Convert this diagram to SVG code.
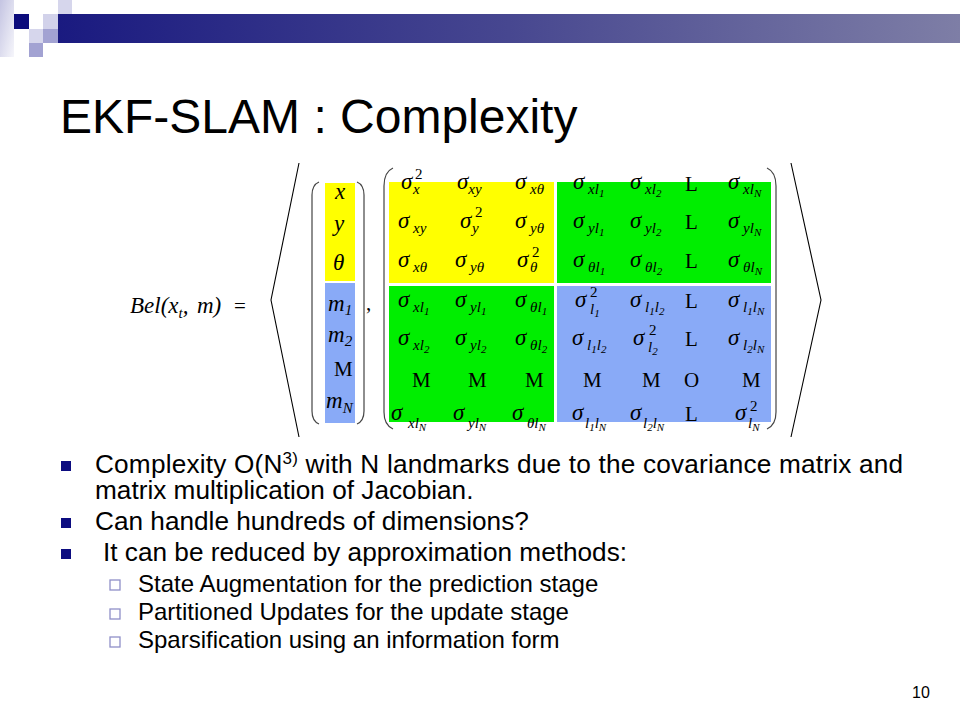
<svg xmlns="http://www.w3.org/2000/svg" width="960" height="720" viewBox="0 0 960 720">
<defs>
<linearGradient id="bar" x1="0" y1="0" x2="1" y2="0">
<stop offset="0" stop-color="#1a1a80"/>
<stop offset="0.5" stop-color="#474790"/>
<stop offset="1" stop-color="#7e7ea6"/>
</linearGradient>
<linearGradient id="strip" x1="0" y1="0" x2="1" y2="1">
<stop offset="0" stop-color="#c4c4e2"/>
<stop offset="1" stop-color="#f6f6fb"/>
</linearGradient>
</defs>
<style>
.t{font-family:"Liberation Sans",Arial,sans-serif;fill:#000}
.m{font-family:"Liberation Serif","Times New Roman",serif;font-style:italic;font-size:23px;fill:#000}
.sb{font-size:15px}
.ix{font-size:11px}
.sp{font-family:"Liberation Serif","Times New Roman",serif;font-size:15px;fill:#000}
.u{font-family:"Liberation Serif","Times New Roman",serif;font-size:21px;fill:#000}
.br{fill:none;stroke:#000;stroke-width:1.1}
.pr{fill:none;stroke:#444;stroke-width:1.2}
.bul{fill:#0c0c80}
.sbul{fill:#fff;stroke:#9090c8;stroke-width:1.3}
.b1{font-size:26.2px}
.b2{font-size:24px}
</style>
<g id="banner">
<rect x="0" y="0" width="14" height="57" fill="url(#strip)"/>
<rect x="14" y="14" width="15" height="15" fill="#0c0c7c"/>
<rect x="43" y="14" width="15" height="15" fill="#d2d2ea"/>
<rect x="58" y="14" width="14" height="15" fill="#a2a2d2"/>
<rect x="58" y="0" width="14" height="14" fill="#d6d6ec"/>
<rect x="29" y="29" width="14" height="14" fill="#d6d6ec"/>
<rect x="43" y="29" width="15" height="14" fill="#a2a2d2"/>
<rect x="29" y="43" width="14" height="14" fill="#a2a2d2"/>
<rect x="58" y="14" width="902" height="29" fill="url(#bar)"/>
</g>
<g id="title">
<text class="t" x="60" y="133" font-size="48">EKF-SLAM : Complexity</text>
</g>
<g id="equation">
<text class="m" x="130" y="313" font-size="26">Bel(x<tspan class="sb" dy="5">t</tspan><tspan dy="-5">,</tspan><tspan x="197">m)</tspan></text>
<text class="u" x="234" y="313" font-size="24">=</text>
<polyline class="br" points="299,163 271,300 299,437"/>
<polyline class="br" points="791,163 821,300 791,437"/>
<text class="u" x="366" y="310">,</text>
</g>
<g id="vector">
<rect x="325" y="183" width="30" height="98" fill="#ffff00"/>
<rect x="325" y="283" width="30" height="140" fill="#89aaf7"/>
<path class="pr" d="M319,182 Q312,185 312,195 L312,411 Q312,421 319,424"/>
<path class="pr" d="M357,182 Q364,185 364,195 L364,411 Q364,421 357,424"/>
<text class="m" x="335" y="199" font-size="22">x</text>
<text class="m" x="334" y="231" font-size="22">y</text>
<text class="m" x="333" y="270" font-size="22">θ</text>
<text class="m" x="328" y="311" font-size="22">m<tspan class="sb" dy="4">1</tspan></text>
<text class="m" x="328" y="342" font-size="22">m<tspan class="sb" dy="4">2</tspan></text>
<text class="u" x="334" y="376">M</text>
<text class="m" x="326" y="408" font-size="22">m<tspan class="sb" dy="5">N</tspan></text>
</g>
<g id="matrix">
<rect x="389" y="182" width="165" height="101" fill="#ffff00"/>
<rect x="557" y="182" width="214" height="101" fill="#00ee00"/>
<rect x="389" y="286" width="165" height="136" fill="#00ee00"/>
<rect x="557" y="286" width="214" height="136" fill="#89aaf7"/>
<path class="pr" d="M393,168 Q384,172 384,186 L384,412 Q384,425 393,429"/>
<path class="pr" d="M767,168 Q776,172 776,186 L776,412 Q776,425 767,429"/>
<!-- row 1 -->
<text class="m" x="401" y="189">σ</text><text class="sp" x="415" y="179">2</text><text class="m sb" x="413" y="194">x</text>
<text class="m" x="457" y="189">σ<tspan class="sb" dy="5">xy</tspan></text>
<text class="m" x="515" y="189">σ<tspan class="sb" dy="5"> xθ</tspan></text>
<text class="m" x="573" y="189">σ<tspan class="sb" dy="5"> xl</tspan><tspan class="ix" dy="3">1</tspan></text>
<text class="m" x="630" y="189">σ<tspan class="sb" dy="5"> xl</tspan><tspan class="ix" dy="3">2</tspan></text>
<text class="u" x="685" y="191">L</text>
<text class="m" x="728" y="189">σ<tspan class="sb" dy="5"> xl</tspan><tspan class="ix" dy="3">N</tspan></text>
<!-- row 2 -->
<text class="m" x="398" y="228">σ<tspan class="sb" dy="5"> xy</tspan></text>
<text class="m" x="460" y="228">σ</text><text class="sp" x="475" y="217">2</text><text class="m sb" x="472" y="233">y</text>
<text class="m" x="515" y="228">σ<tspan class="sb" dy="5"> yθ</tspan></text>
<text class="m" x="573" y="228">σ<tspan class="sb" dy="5"> yl</tspan><tspan class="ix" dy="3">1</tspan></text>
<text class="m" x="630" y="228">σ<tspan class="sb" dy="5"> yl</tspan><tspan class="ix" dy="3">2</tspan></text>
<text class="u" x="685" y="229">L</text>
<text class="m" x="728" y="228">σ<tspan class="sb" dy="5"> yl</tspan><tspan class="ix" dy="3">N</tspan></text>
<!-- row 3 -->
<text class="m" x="398" y="267">σ<tspan class="sb" dy="5"> xθ</tspan></text>
<text class="m" x="455" y="267">σ<tspan class="sb" dy="5"> yθ</tspan></text>
<text class="m" x="517" y="267">σ</text><text class="sp" x="532" y="257">2</text><text class="m sb" x="530" y="272">θ</text>
<text class="m" x="573" y="267">σ<tspan class="sb" dy="5"> θl</tspan><tspan class="ix" dy="3">1</tspan></text>
<text class="m" x="630" y="267">σ<tspan class="sb" dy="5"> θl</tspan><tspan class="ix" dy="3">2</tspan></text>
<text class="u" x="685" y="268">L</text>
<text class="m" x="728" y="267">σ<tspan class="sb" dy="5"> θl</tspan><tspan class="ix" dy="3">N</tspan></text>
<!-- row 4 -->
<text class="m" x="398" y="307">σ<tspan class="sb" dy="5"> xl</tspan><tspan class="ix" dy="3">1</tspan></text>
<text class="m" x="455" y="307">σ<tspan class="sb" dy="5"> yl</tspan><tspan class="ix" dy="3">1</tspan></text>
<text class="m" x="515" y="307">σ<tspan class="sb" dy="5"> θl</tspan><tspan class="ix" dy="3">1</tspan></text>
<text class="m" x="575" y="307">σ</text><text class="sp" x="590" y="297">2</text><text class="m sb" x="590" y="314">l<tspan class="ix" dy="3">1</tspan></text>
<text class="m" x="630" y="307">σ<tspan class="sb" dy="5"> l</tspan><tspan class="ix" dy="3">1</tspan><tspan class="sb" dy="-3">l</tspan><tspan class="ix" dy="3">2</tspan></text>
<text class="u" x="685" y="308">L</text>
<text class="m" x="728" y="307">σ<tspan class="sb" dy="5"> l</tspan><tspan class="ix" dy="3">1</tspan><tspan class="sb" dy="-3">l</tspan><tspan class="ix" dy="3">N</tspan></text>
<!-- row 5 -->
<text class="m" x="398" y="345">σ<tspan class="sb" dy="5"> xl</tspan><tspan class="ix" dy="3">2</tspan></text>
<text class="m" x="455" y="345">σ<tspan class="sb" dy="5"> yl</tspan><tspan class="ix" dy="3">2</tspan></text>
<text class="m" x="515" y="345">σ<tspan class="sb" dy="5"> θl</tspan><tspan class="ix" dy="3">2</tspan></text>
<text class="m" x="572" y="345">σ<tspan class="sb" dy="5"> l</tspan><tspan class="ix" dy="3">1</tspan><tspan class="sb" dy="-3">l</tspan><tspan class="ix" dy="3">2</tspan></text>
<text class="m" x="633" y="345">σ</text><text class="sp" x="649" y="335">2</text><text class="m sb" x="648" y="352">l<tspan class="ix" dy="3">2</tspan></text>
<text class="u" x="685" y="346">L</text>
<text class="m" x="728" y="345">σ<tspan class="sb" dy="5"> l</tspan><tspan class="ix" dy="3">2</tspan><tspan class="sb" dy="-3">l</tspan><tspan class="ix" dy="3">N</tspan></text>
<!-- row 6 -->
<text class="u" x="412" y="387">M</text>
<text class="u" x="468" y="387">M</text>
<text class="u" x="525" y="387">M</text>
<text class="u" x="583" y="387">M</text>
<text class="u" x="642" y="387">M</text>
<text class="u" x="684" y="387">O</text>
<text class="u" x="742" y="387">M</text>
<!-- row 7 -->
<text class="m" x="391" y="420">σ</text><text class="m sb" x="408" y="428">xl<tspan class="ix" dy="3">N</tspan></text>
<text class="m" x="453" y="420">σ</text><text class="m sb" x="468" y="428">yl<tspan class="ix" dy="3">N</tspan></text>
<text class="m" x="512" y="420">σ</text><text class="m sb" x="527" y="428">θl<tspan class="ix" dy="3">N</tspan></text>
<text class="m" x="572" y="420">σ</text><text class="m sb" x="585" y="428">l<tspan class="ix" dy="3">1</tspan><tspan dy="-3">l</tspan><tspan class="ix" dy="3">N</tspan></text>
<text class="m" x="630" y="420">σ</text><text class="m sb" x="643" y="428">l<tspan class="ix" dy="3">2</tspan><tspan dy="-3">l</tspan><tspan class="ix" dy="3">N</tspan></text>
<text class="u" x="685" y="421">L</text>
<text class="m" x="735" y="420">σ</text><text class="sp" x="750" y="411">2</text><text class="m sb" x="748" y="428">l<tspan class="ix" dy="3">N</tspan></text>
</g>
<g id="bullets">
<rect class="bul" x="61" y="461" width="10" height="10"/>
<text class="t b1" x="95" y="473" textLength="808" lengthAdjust="spacing">Complexity O(N<tspan font-size="17" dy="-9">3)</tspan><tspan dy="9"> with N landmarks due to the covariance matrix and</tspan></text>
<text class="t b1" x="95" y="499">matrix multiplication of Jacobian.</text>
<rect class="bul" x="61" y="518" width="10" height="10"/>
<text class="t b1" x="95" y="530">Can handle hundreds of dimensions?</text>
<rect class="bul" x="61" y="549" width="10" height="10"/>
<text class="t b1" x="103" y="561">It can be reduced by approximation methods:</text>
<rect class="sbul" x="110" y="580" width="10" height="10"/>
<text class="t b2" x="138" y="592">State Augmentation for the prediction stage</text>
<rect class="sbul" x="110" y="609" width="10" height="10"/>
<text class="t b2" x="138" y="620">Partitioned Updates for the update stage</text>
<rect class="sbul" x="110" y="637" width="10" height="10"/>
<text class="t b2" x="138" y="648">Sparsification using an information form</text>
</g>
<g id="page">
<text class="t" x="912" y="698" font-size="16">10</text>
</g>
</svg>
